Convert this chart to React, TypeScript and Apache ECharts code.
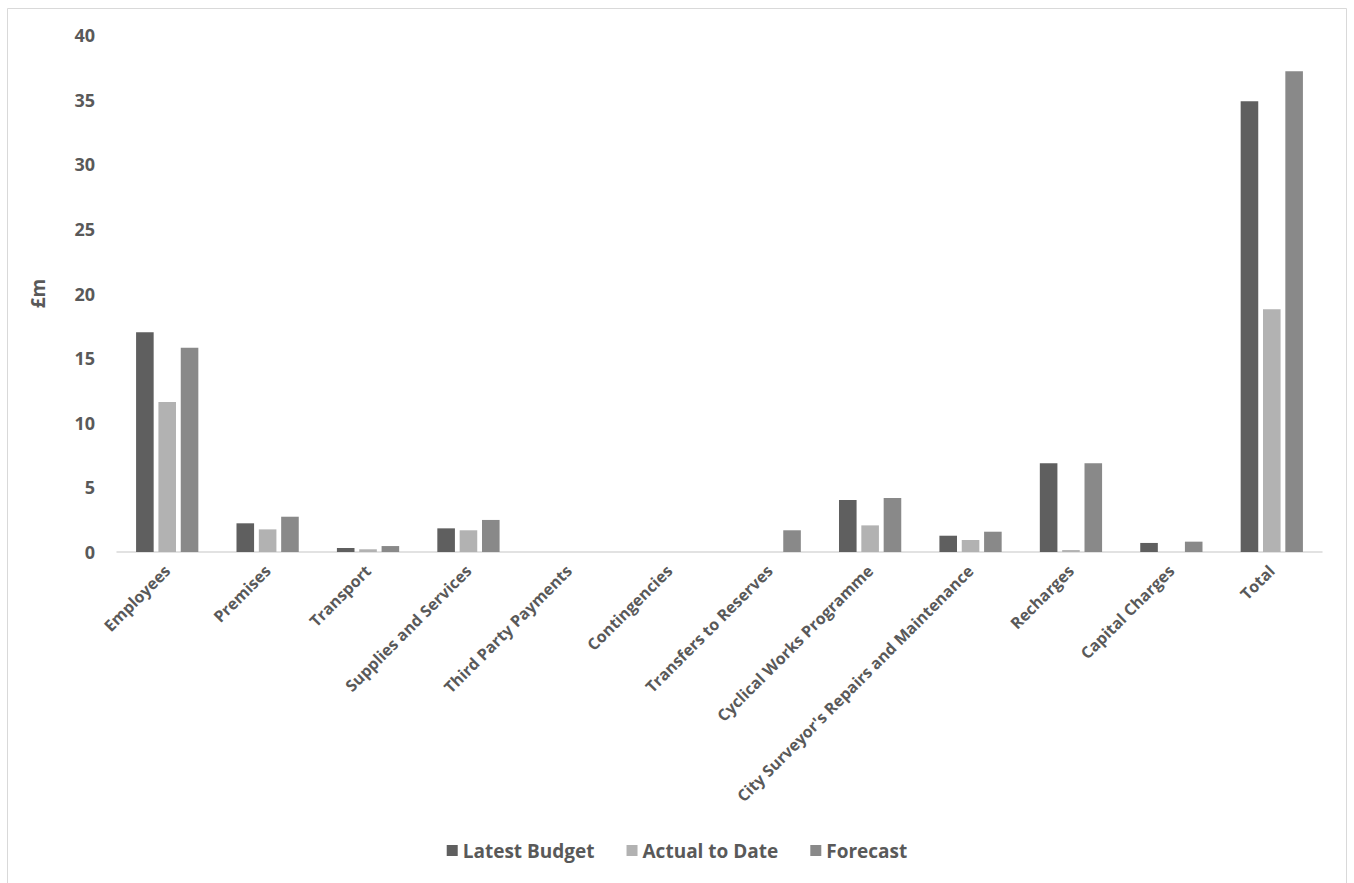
import React, { useEffect, useRef } from "react";
import * as echarts from "echarts";

const categories = [
  "Employees",
  "Premises",
  "Transport",
  "Supplies and Services",
  "Third Party Payments",
  "Contingencies",
  "Transfers to Reserves",
  "Cyclical Works Programme",
  "City Surveyor's Repairs and Maintenance",
  "Recharges",
  "Capital Charges",
  "Total",
];

const latestBudget = [17.0, 2.22, 0.31, 1.83, 0, 0, 0, 4.02, 1.26, 6.86, 0.7, 34.87];
const actualToDate = [11.6, 1.75, 0.21, 1.68, 0, 0, 0, 2.06, 0.93, 0.15, 0, 18.78];
const forecast = [15.8, 2.73, 0.46, 2.48, 0, 0, 1.68, 4.18, 1.57, 6.86, 0.8, 37.2];

const yTicks = { min: 0, max: 40, interval: 5 };

const FONT = "'Open Sans', 'Noto Sans', sans-serif";
const TEXT = "#595959";

export default function App() {
  const ref = useRef<HTMLDivElement>(null);
  useEffect(() => {
    if (!ref.current) return;
    const chart = echarts.init(ref.current, undefined, { renderer: "svg" });
    const mkSeries = (name: string, data: number[], color: string) => ({
      name,
      type: "bar",
      data: data.map((v) => (v === 0 ? null : v)),
      barGap: "27%",
      barCategoryGap: "38%",
      itemStyle: { color },
    });
    chart.setOption({
      animation: false,
      backgroundColor: "#ffffff",
      textStyle: { fontFamily: FONT },
      graphic: [
        {
          type: "rect",
          shape: { x: 7.5, y: 8.5, width: 1339, height: 880 },
          style: { fill: "none", stroke: "#d9d9d9", lineWidth: 1 },
          silent: true,
        },
      ],
      grid: { left: 117, right: 32, top: 35, bottom: 331, containLabel: false },
      legend: {
        bottom: 18,
        left: "center",
        itemWidth: 11,
        itemHeight: 11,
        itemGap: 32,
        icon: "rect",
        textStyle: { color: TEXT, fontSize: 19, fontWeight: "bold", fontFamily: FONT },
        data: ["Latest Budget", "Actual to Date", "Forecast"],
      },
      xAxis: {
        type: "category",
        data: categories,
        axisLine: { lineStyle: { color: "#d9d9d9", width: 1.5 } },
        axisTick: { show: false },
        axisLabel: {
          rotate: 45,
          interval: 0,
          color: TEXT,
          fontSize: 16,
          fontWeight: "bold",
          fontFamily: FONT,
          margin: 16,
        },
      },
      yAxis: {
        type: "value",
        min: yTicks.min,
        max: yTicks.max,
        interval: yTicks.interval,
        name: "£m",
        nameLocation: "middle",
        nameGap: 70,
        nameTextStyle: { color: TEXT, fontSize: 19, fontWeight: "bold", fontFamily: FONT },
        axisLine: { show: false },
        axisTick: { show: false },
        splitLine: { show: false },
        axisLabel: {
          color: TEXT,
          fontSize: 18,
          fontWeight: "bold",
          fontFamily: FONT,
          margin: 22,
        },
      },
      series: [
        mkSeries("Latest Budget", latestBudget, "#5f5f5f"),
        mkSeries("Actual to Date", actualToDate, "#b2b2b2"),
        mkSeries("Forecast", forecast, "#898989"),
      ],
    });
    return () => chart.dispose();
  }, []);
  return (
    <div
      ref={ref}
      style={{ position: "absolute", left: 0, top: 0, width: 1354, height: 883 }}
    />
  );
}
